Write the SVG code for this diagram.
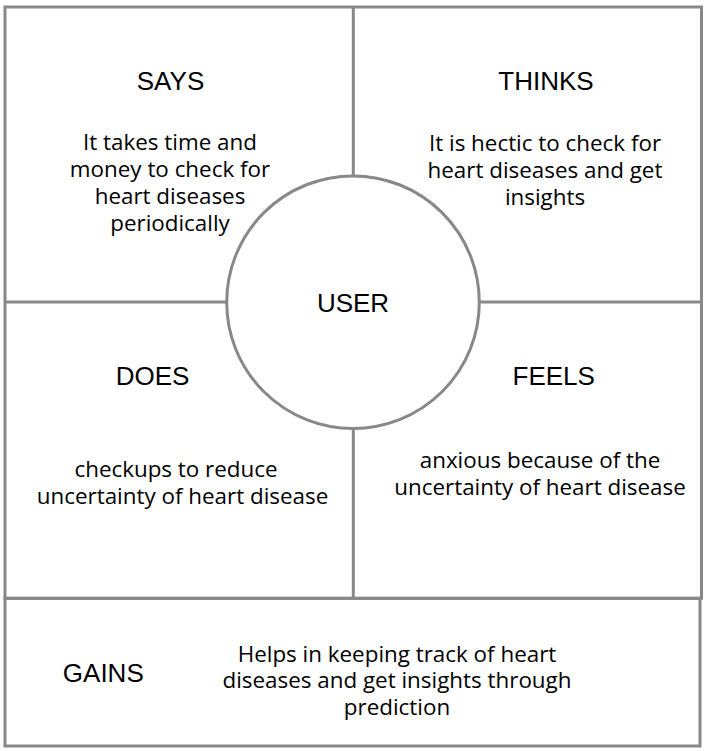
<svg xmlns="http://www.w3.org/2000/svg" width="705" height="751" viewBox="0 0 705 751">
<style>
.frame{fill:none;stroke:#888888;stroke-width:3}
.head{font-family:"Liberation Sans",Arial,sans-serif;font-size:26px;fill:#000;text-anchor:middle}
.body{font-family:"Open Sans",sans-serif;font-size:22.4px;fill:#000;text-anchor:middle}
</style>
<rect width="705" height="751" fill="#ffffff"/>
<g id="connectors">
<line class="frame" x1="353.3" y1="7" x2="353.3" y2="176"/>
<line class="frame" x1="353.3" y1="428" x2="353.3" y2="598"/>
<line class="frame" x1="5" y1="302" x2="227" y2="302"/>
<line class="frame" x1="479" y1="302" x2="701.5" y2="302"/>
</g>
<g id="frame-top">
<rect class="frame" x="5" y="7" width="696.5" height="591.3"/>
</g>
<g id="says">
<text class="head" x="170.5" y="90">SAYS</text>
<text class="body" x="170" y="150">It takes time and</text>
<text class="body" x="170" y="177">money to check for</text>
<text class="body" x="170" y="204">heart diseases</text>
<text class="body" x="170" y="231">periodically</text>
</g>
<g id="thinks">
<text class="head" x="546" y="90">THINKS</text>
<text class="body" x="545" y="151">It is hectic to check for</text>
<text class="body" x="545" y="178">heart diseases and get</text>
<text class="body" x="545" y="205">insights</text>
</g>
<g id="user">
<circle cx="353" cy="302.2" r="126.3" fill="#ffffff" stroke="#888888" stroke-width="3"/>
<text class="head" x="353" y="311.5">USER</text>
</g>
<g id="does">
<text class="head" x="152.5" y="385">DOES</text>
<text class="body" x="176" y="477">checkups to reduce</text>
<text class="body" x="182.5" y="504">uncertainty of heart disease</text>
</g>
<g id="feels">
<text class="head" x="553.7" y="385">FEELS</text>
<text class="body" x="540" y="468">anxious because of the</text>
<text class="body" x="540" y="495">uncertainty of heart disease</text>
</g>
<g id="gains">
<rect class="frame" x="5" y="598.3" width="695" height="147.7"/>
<text class="head" x="103.3" y="681.5">GAINS</text>
<text class="body" x="397" y="661.7">Helps in keeping track of heart</text>
<text class="body" x="397" y="688">diseases and get insights through</text>
<text class="body" x="397" y="715">prediction</text>
</g>
</svg>
